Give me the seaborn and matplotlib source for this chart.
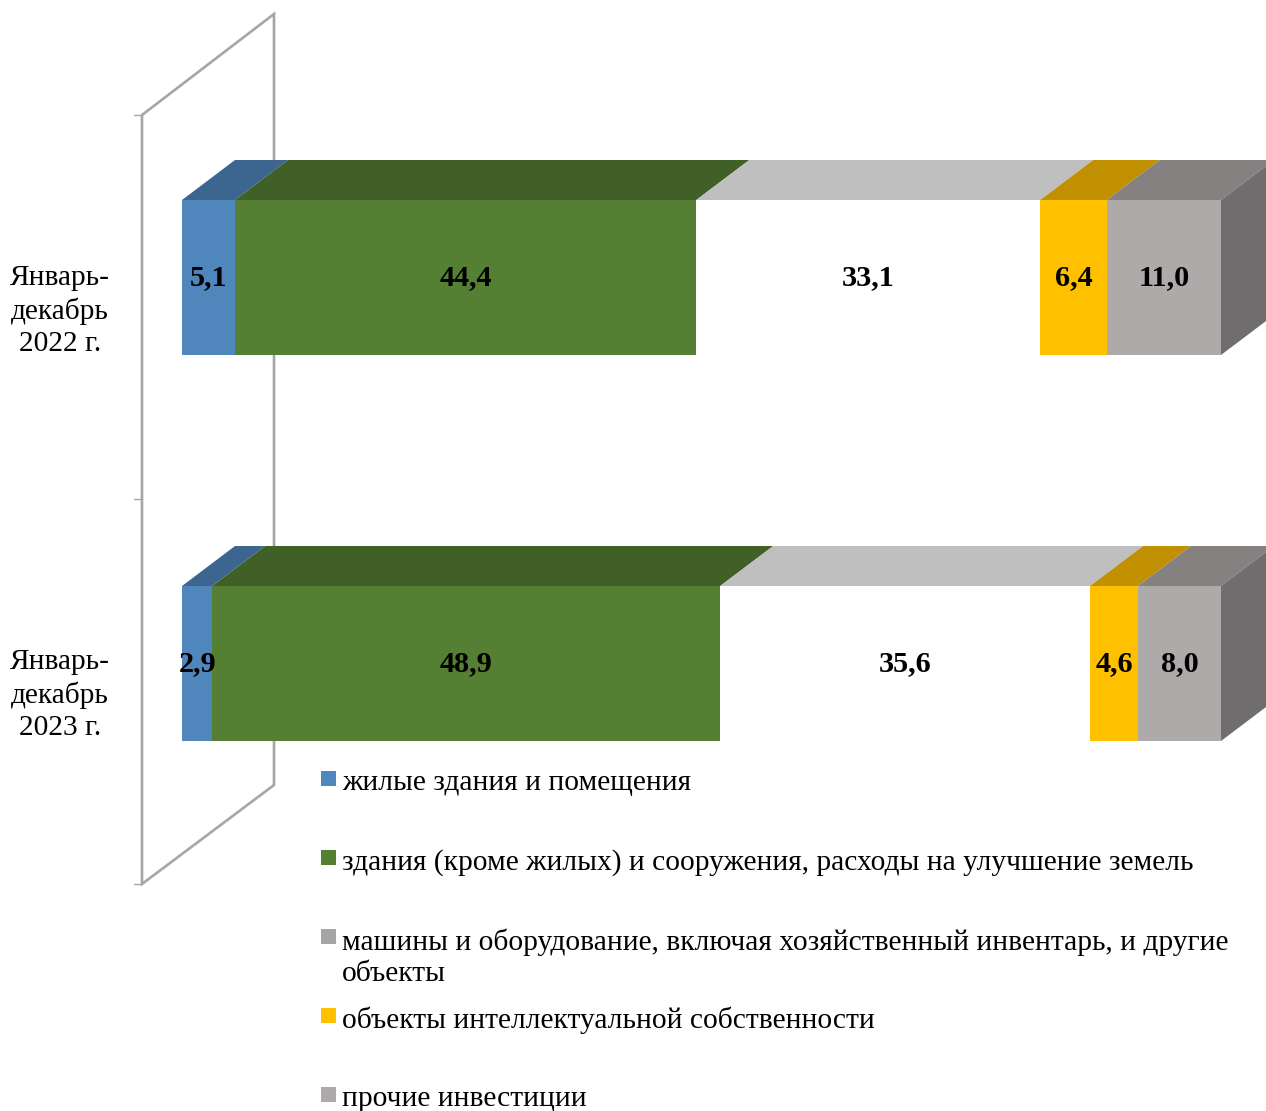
import pandas as pd
import seaborn as sns
import matplotlib.pyplot as plt
from matplotlib.patches import Polygon, Rectangle
from matplotlib.transforms import Affine2D

W, H = 1266, 1111

periods = ['Январь-\nдекабрь\n2022 г.', 'Январь-\nдекабрь\n2023 г.']
housing = [5.1, 2.9]
buildings = [44.4, 48.9]
machinery = [33.1, 35.6]
intellectual = [6.4, 4.6]
other = [11.0, 8.0]

series_names = [
    'жилые здания и помещения',
    'здания (кроме жилых) и сооружения, расходы на улучшение земель',
    'машины и оборудование, включая хозяйственный инвентарь, и другие\nобъекты',
    'объекты интеллектуальной собственности',
    'прочие инвестиции',
]
front_colors = ['#4F86BC', '#558033', '#FFFFFF', '#FFC000', '#AEAAA9']
top_colors = ['#3C668F', '#416027', '#BFBFBF', '#C09000', '#858180']
legend_colors = ['#4F86BC', '#558033', '#A5A5A5', '#FFC000', '#AEAAA9']
side_color = '#6F6D6D'
wall_color = '#A6A6A6'

sns.set_theme(style='white')
plt.rcParams['font.family'] = ['Liberation Serif', 'DejaVu Serif']

df = pd.DataFrame({'period': periods, 'housing': housing, 'buildings': buildings,
                   'machinery': machinery, 'intellectual': intellectual, 'other': other})
columns = ['housing', 'buildings', 'machinery', 'intellectual', 'other']

fig = plt.figure(figsize=(W / 100, H / 100), dpi=100)
ax = fig.add_axes([0, 0, 1, 1])

# пиксели картинки -> координаты фигуры (для стенки и легенды)
px = Affine2D().scale(1 / W, -1 / H).translate(0, 1) + fig.transFigure

# задняя стенка
ax.add_patch(Polygon([(142, 115), (274, 14), (274, 785), (142, 884)], closed=True, fill=False,
                     edgecolor=wall_color, linewidth=1.9, transform=px, zorder=1, clip_on=False))
for y in [115, 499, 884]:
    ax.plot([134, 142], [y, y], color=wall_color, linewidth=1, transform=px, zorder=1)

# масштаб: 0..100 -> 182..1221 px, категории -> 277.5 и 663.5 px
x_scale = (1221 - 182) / 100
y_scale = 663.5 - 277.5
bar_width = 155 / y_scale
depth_x = 53 / x_scale
depth_y = 40 / y_scale

left = [0.0, 0.0]
for col, front, top in zip(columns, front_colors, top_colors):
    sns.barplot(data=df, y='period', x=col, orient='h', left=left, width=bar_width,
                color=front, saturation=1, linewidth=0, ax=ax, zorder=3)
    for i, val in enumerate(df[col]):
        y_top = i - bar_width / 2
        ax.add_patch(Polygon([(left[i], y_top), (left[i] + val, y_top),
                              (left[i] + val + depth_x, y_top - depth_y),
                              (left[i] + depth_x, y_top - depth_y)],
                             closed=True, facecolor=top, edgecolor='none', zorder=3))
        ax.text(left[i] + val / 2, i, f'{val:.1f}'.replace('.', ','), ha='center', va='center',
                fontsize=21.8, fontweight='bold', color='black', zorder=5)
        left[i] += val

# правая грань
for i in range(len(periods)):
    y_top = i - bar_width / 2
    ax.add_patch(Polygon([(left[i], y_top), (left[i] + depth_x, y_top - depth_y),
                          (left[i] + depth_x, y_top + bar_width - depth_y),
                          (left[i], y_top + bar_width)],
                         closed=True, facecolor=side_color, edgecolor='none', zorder=3))

ax.set_xlim(-182 / x_scale, (W - 182) / x_scale)
ax.set_ylim((H - 277.5) / y_scale, -277.5 / y_scale)
ax.axis('off')

# подписи категорий
for i, label in enumerate(periods):
    ax.text(60, [311, 695][i], label, transform=px, ha='center', va='center',
            fontsize=21.2, color='black', linespacing=1.29)

# легенда
for name, color, y in zip(series_names, legend_colors, [781, 860, 939, 1018, 1097]):
    ax.add_patch(Rectangle((321, y - 10), 15, 15, facecolor=color, edgecolor='none',
                           transform=px, clip_on=False, zorder=4))
    ax.text(342, y - 11, name, transform=px, ha='left', va='top', fontsize=21.25,
            color='black', linespacing=1.29)

fig.savefig('out.png', dpi=100)
